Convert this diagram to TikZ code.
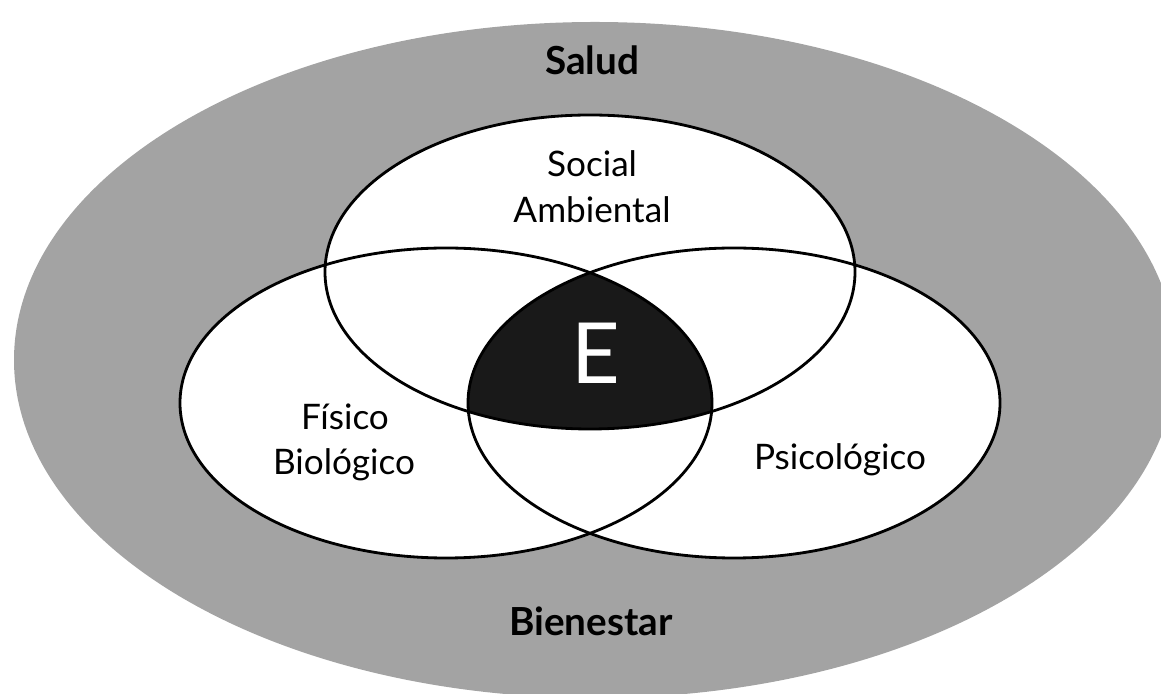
\documentclass[tikz,border=0pt]{standalone}
\usepackage{fontspec}
\setmainfont{Lato}
\begin{document}
\begin{tikzpicture}[
    zona/.style={draw=black, line width=1.6pt},
    rotulo/.style={font=\fontsize{20}{24}\selectfont, anchor=base},
    titulo/.style={font=\fontsize{22}{26}\selectfont\bfseries, anchor=base}]
        \useasboundingbox (0,0) rectangle (23.22,13.86);
        \coordinate (centro) at (11.9,6.66);
        \coordinate (soc) at (11.8,8.42);
        \coordinate (fis) at (8.92,5.8);
        \coordinate (psi) at (14.68,5.8);
        \fill[black!36] (centro) ellipse [x radius=11.62, y radius=6.76];
        \fill[white] (soc) ellipse [x radius=5.3, y radius=3.14];
        \fill[white] (fis) ellipse [x radius=5.32, y radius=3.1];
        \fill[white] (psi) ellipse [x radius=5.32, y radius=3.1];
        \begin{scope}
            \clip (fis) ellipse [x radius=5.32, y radius=3.1];
            \clip (psi) ellipse [x radius=5.32, y radius=3.1];
            \fill[black!90] (soc) ellipse [x radius=5.3, y radius=3.14];
        \end{scope}
        \draw[zona] (soc) ellipse [x radius=5.3, y radius=3.14];
        \draw[zona] (fis) ellipse [x radius=5.32, y radius=3.1];
        \draw[zona] (psi) ellipse [x radius=5.32, y radius=3.1];
        \node (salud) [titulo] at (11.84,12.36) {Salud};
        \node (bienestar) [titulo] at (11.82,1.16) {Bienestar};
        \node (social) [rotulo] at (11.84,10.32) {Social};
        \node (ambiental) [rotulo] at (11.84,9.4) {Ambiental};
        \node (fisico) [rotulo] at (6.9,5.26) {Físico};
        \node (biologico) [rotulo] at (6.88,4.36) {Biológico};
        \node (psicologico) [rotulo] at (16.8,4.46) {Psicológico};
        \node (e) [anchor=base, text=white, font=\fontsize{48}{52}\selectfont] at (11.92,6.18) {E};
      \end{tikzpicture}
\end{document}
